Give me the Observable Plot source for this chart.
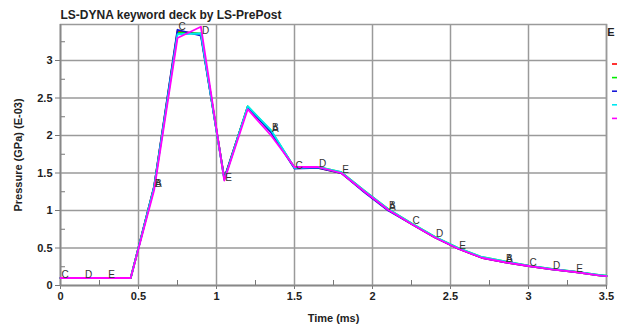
<!DOCTYPE html>
<html>
<head>
<meta charset="utf-8">
<script src="https://cdn.jsdelivr.net/npm/d3@7"></script>
<script src="https://cdn.jsdelivr.net/npm/@observablehq/plot@0.6"></script>
<style>
  html, body { margin: 0; padding: 0; background: #fff; }
  #chart svg { display: block; }
</style>
</head>
<body>
<div id="chart"></div>
<script>
// ---- data ----
const times = [0, 0.15, 0.3, 0.45, 0.6, 0.75, 0.9, 1.05, 1.2, 1.35, 1.5, 1.65, 1.8, 1.95, 2.1, 2.25, 2.4, 2.55, 2.7, 2.85, 3.0, 3.15, 3.3, 3.45, 3.5];
const seriesA = [0.1, 0.1, 0.1, 0.1, 1.32, 3.39, 3.35, 1.43, 2.38, 2.05, 1.57, 1.57, 1.50, 1.25, 1.01, 0.82, 0.64, 0.49, 0.37, 0.31, 0.26, 0.215, 0.18, 0.135, 0.125];
const seriesB = [0.1, 0.1, 0.1, 0.1, 1.31, 3.37, 3.36, 1.42, 2.39, 2.06, 1.57, 1.58, 1.51, 1.26, 1.02, 0.83, 0.65, 0.50, 0.38, 0.32, 0.265, 0.22, 0.185, 0.14, 0.13];
const seriesC = [0.1, 0.1, 0.1, 0.1, 1.32, 3.41, 3.33, 1.43, 2.38, 2.04, 1.56, 1.57, 1.50, 1.24, 1.00, 0.82, 0.64, 0.49, 0.37, 0.31, 0.26, 0.215, 0.18, 0.135, 0.125];
const seriesD = [0.1, 0.1, 0.1, 0.1, 1.31, 3.35, 3.36, 1.41, 2.39, 2.07, 1.57, 1.58, 1.51, 1.26, 1.02, 0.83, 0.65, 0.50, 0.38, 0.32, 0.265, 0.22, 0.185, 0.14, 0.13];
const seriesE = [0.1, 0.1, 0.1, 0.1, 1.27, 3.30, 3.45, 1.40, 2.35, 2.00, 1.58, 1.58, 1.50, 1.25, 1.01, 0.82, 0.64, 0.49, 0.37, 0.31, 0.26, 0.215, 0.18, 0.135, 0.125];
const seriesNames = ["A", "B", "C", "D", "E"];
const seriesColors = ["#ff0000", "#00ee00", "#1818d8", "#00e8f0", "#ff00ff"];
const labelTimesA = [0.6, 1.35, 2.1, 2.85];
const labelTimesB = [0.6, 1.35, 2.1, 2.85];
const labelTimesC = [0, 0.75, 1.5, 2.25, 3.0];
const labelTimesD = [0.15, 0.9, 1.65, 2.4, 3.15];
const labelTimesE = [0.3, 1.05, 1.8, 2.55, 3.3];
const xTicks = [0, 0.5, 1, 1.5, 2, 2.5, 3, 3.5];
const yTicks = [0, 0.5, 1, 1.5, 2, 2.5, 3];
const xMinor = [0.25, 0.75, 1.25, 1.75, 2.25, 2.75, 3.25];
const yMinor = [0.25, 0.75, 1.25, 1.75, 2.25, 2.75, 3.25];
const titleText = "LS-DYNA keyword deck by LS-PrePost";
const xLabel = "Time (ms)";
const yLabel = "Pressure (GPa) (E-03)";
const legendHeader = "E";

// ---- build tables ----
const allSeries = [seriesA, seriesB, seriesC, seriesD, seriesE];
const allLabelTimes = [labelTimesA, labelTimesB, labelTimesC, labelTimesD, labelTimesE];
const rows = [];
allSeries.forEach((vals, k) => vals.forEach((v, i) => rows.push({series: seriesNames[k], t: times[i], p: v})));
const labels = [];
allLabelTimes.forEach((lt, k) => lt.forEach(t => {
  const i = times.findIndex(tt => Math.abs(tt - t) < 1e-9);
  labels.push({series: seriesNames[k], t, p: allSeries[k][i]});
}));

const W = 617, H = 326;
const gridColor = "#9a9a9a";
const font = "Liberation Sans, Arial, sans-serif";

const chart = Plot.plot({
  width: W,
  height: H,
  marginLeft: 60,
  marginRight: 11,
  marginTop: 24,
  marginBottom: 41,
  style: {fontFamily: font, background: "#fff", color: "#222"},
  x: {domain: [0, 3.5]},
  y: {domain: [0, 3.48]},
  color: {domain: seriesNames, range: seriesColors},
  marks: [
    Plot.gridX(xTicks, {stroke: gridColor, strokeOpacity: 1, strokeWidth: 1.5}),
    Plot.gridY(yTicks, {stroke: gridColor, strokeOpacity: 1, strokeWidth: 1.5}),
    Plot.frame({stroke: gridColor, strokeWidth: 1.5}),
    Plot.axisX({ticks: xTicks, tickSize: 4, tickPadding: 3, tickFormat: d => `${d}`, fontSize: 11, fontWeight: "bold",
      stroke: "#777", label: xLabel, labelAnchor: "center", labelArrow: "none", labelOffset: 36}),
    Plot.axisX({ticks: xMinor, tickSize: 5, dy: -5, tickFormat: () => "", stroke: "#777", label: null}),
    Plot.axisY({ticks: yTicks, tickSize: 5, tickPadding: 3, tickFormat: d => `${d}`, fontSize: 11, fontWeight: "bold",
      stroke: "#777", label: yLabel, labelAnchor: "center", labelArrow: "none", labelOffset: 46}),
    Plot.axisY({ticks: yMinor, tickSize: 5, dx: 5, tickFormat: () => "", stroke: "#777", label: null}),
    Plot.ruleX([0], {stroke: "#888", strokeWidth: 1.5}),
    Plot.ruleY([0], {stroke: "#888", strokeWidth: 1.5}),
    Plot.line(rows, {x: "t", y: "p", z: "series", stroke: "series", strokeWidth: 1.8}),
    Plot.text(labels, {x: "t", y: "p", text: "series", textAnchor: "start", dx: 1, dy: -3, fontSize: 10, fill: "#333"}),
    Plot.text([titleText], {frameAnchor: "top-left", textAnchor: "start", lineAnchor: "bottom", dy: -6, fontSize: 12, fontWeight: "bold", fill: "#222"})
  ]
});

document.getElementById("chart").appendChild(chart);

// legend (cropped at right edge, as in the reference)
const svg = d3.select(chart);
const lg = svg.append("g").attr("font-family", font);
lg.append("text").attr("x", 611).attr("y", 36).attr("font-size", 11).attr("font-weight", "bold").attr("fill", "#222").text(legendHeader);
seriesColors.forEach((c, k) => {
  lg.append("line").attr("x1", 612).attr("x2", 617).attr("y1", 64 + k * 13.6).attr("y2", 64 + k * 13.6)
    .attr("stroke", c).attr("stroke-width", 1.6);
});
</script>
</body>
</html>
